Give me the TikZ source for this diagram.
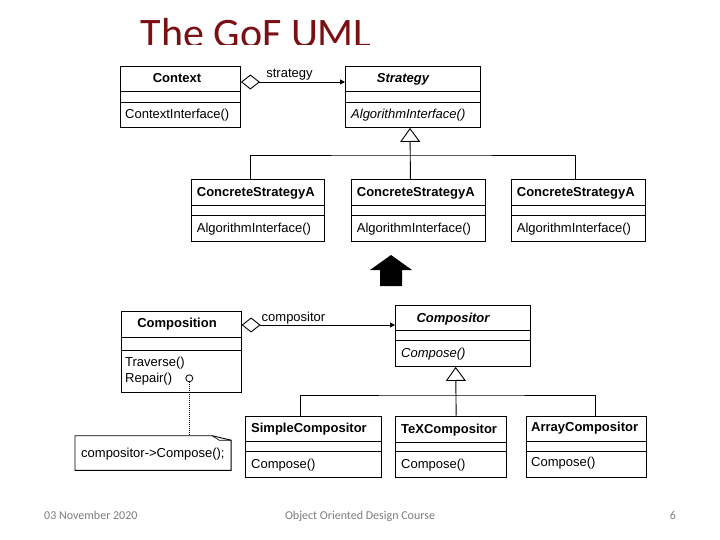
\documentclass[tikz,border=0pt]{standalone}
\usepackage{fontspec}
\setmainfont{Liberation Sans}
\newfontfamily\calib{Carlito}
\usetikzlibrary{arrows.meta}
\definecolor{titlered}{RGB}{122,16,20}
\definecolor{footgray}{RGB}{125,125,125}
\newcommand\umlbox[7]{%
  \node[cls, minimum width={(#4-#2)*1pt}, minimum height={(#5-#3)*1pt}] (#1) at (#2,#3) {};
  \draw[ln] (#2,#6) -- (#4,#6);
  \draw[ln] (#2,#7) -- (#4,#7);
}
\begin{document}
\begin{tikzpicture}[x=1pt,y=-1pt,
  ln/.style={line width=0.9pt},
  cls/.style={draw, ln, anchor=north west, inner sep=0},
  txt/.style={font=\fontsize{13}{15}\selectfont, inner sep=0, text height=9pt, text depth=0pt},
  ttl/.style={txt, font=\fontsize{13}{15}\selectfont\bfseries},
  ttlit/.style={txt, font=\fontsize{13}{15}\selectfont\bfseries\itshape},
  op/.style={txt, anchor=west},
  opit/.style={op, font=\fontsize{13}{15}\selectfont\itshape},
  agg/.style={ln, {Diamond[open,length=19pt,width=15pt]}-{Triangle[length=5pt,width=5pt]}},
  gen/.style={ln, -{Triangle[open,length=14pt,width=20pt]}},
  ft/.style={font=\calib\fontsize{12}{14}\selectfont, text=footgray, inner sep=0}
]
\useasboundingbox (0,0) rectangle (720,540);
\fill[white] (0,0) rectangle (720,540);

% title (clipped at its bottom as in the slide)
\begin{scope}
  \clip (0,0) rectangle (720,44.5);
  \node[font=\calib\fontsize{42}{48}\selectfont, text=titlered, anchor=base west, inner sep=0] (title) at (140.5,47.5) {The GoF UML};
\end{scope}

% classes
\umlbox{ctx}{120}{66}{240}{127}{91}{102}
\umlbox{str}{345}{66}{480}{127}{91}{102}
\umlbox{c1}{190.7}{179}{324}{241}{205}{215}
\umlbox{c2}{350.7}{179}{485}{241}{205}{215}
\umlbox{c3}{510.7}{179}{645}{241}{205}{215}
\umlbox{cmp}{120.7}{310.5}{240.7}{391.7}{337.7}{350}
\umlbox{cpr}{395}{305}{530}{366}{330}{340.7}
\umlbox{sc}{245}{415.7}{380.7}{477.3}{441}{451}
\umlbox{tc}{395}{415.7}{505.8}{477.3}{442}{451.7}
\umlbox{ac}{525.7}{415.7}{645.5}{477.3}{441}{451}

% class texts
\node[ttl] (ctxT) at (177,78.5) {Context};
\node[op] (ctxO) at (125,114.5) {ContextInterface()};
\node[ttlit] (strT) at (403,78.5) {Strategy};
\node[opit] (strO) at (351,114.5) {AlgorithmInterface()};
\node[ttl, anchor=west] (c1T) at (196.7,192) {ConcreteStrategyA};
\node[op] (c1O) at (196.7,228) {AlgorithmInterface()};
\node[ttl, anchor=west] (c2T) at (356.7,192) {ConcreteStrategyA};
\node[op] (c2O) at (356.7,228) {AlgorithmInterface()};
\node[ttl, anchor=west] (c3T) at (516.7,192) {ConcreteStrategyA};
\node[op] (c3O) at (516.7,228) {AlgorithmInterface()};
\node[ttl] (cmpT) at (177,323) {Composition};
\node[op] (cmpO1) at (125,362) {Traverse()};
\node[op] (cmpO2) at (125,378) {Repair()};
\node[ttlit] (cprT) at (453,317.5) {Compositor};
\node[opit] (cprO) at (401,353) {Compose()};
\node[ttl, anchor=west] (scT) at (251,428) {SimpleCompositor};
\node[op] (scO) at (251,464) {Compose()};
\node[ttl, anchor=west] (tcT) at (401,429) {TeXCompositor};
\node[op] (tcO) at (401,464) {Compose()};
\node[ttl, anchor=west] (acT) at (531,427) {ArrayCompositor};
\node[op] (acO) at (531,462) {Compose()};

% aggregations
\draw[agg] ([yshift=-16pt]ctx.north east) -- ([yshift=-16pt]str.north west);
\node[txt] (lblS) at (289.5,73) {strategy};
\draw[agg] ([yshift=-14.5pt]cmp.north east) -- ([yshift=-20pt]cpr.north west);
\node[txt] (lblC) at (293.5,317) {compositor};

% generalization Strategy
\coordinate (h1) at (410,155);
\draw[ln] ([xshift=-7.35pt]c1.north) |- (h1) -| ([xshift=-2.85pt]c3.north);
\draw[gen] ([xshift=-7.85pt]c2.north) -- (h1 |- str.south);

% generalization Compositor
\coordinate (h2) at (455.7,395);
\draw[ln] ([xshift=-12.85pt]sc.north) |- (h2) -| ([xshift=9.4pt]ac.north);
\draw[gen] ([xshift=5.3pt]tc.north) -- (h2 |- cpr.south);

% big black arrow
\fill[black] (370,270) -- (391,255) -- (412,270) -- (402,270) -- (402,286) -- (380,286) -- (380,270) -- cycle;

% note
\node[inner sep=0, minimum width=155.7pt, minimum height=34.3pt, anchor=north west] (note) at (75,435.7) {};
\draw[ln] (note.north west) -- ([xshift=-19pt]note.north east) -- ([yshift=-4.5pt]note.north east) -- (note.south east) -- (note.south west) -- cycle;
\draw[line width=0.6pt] ([xshift=-19pt]note.north east) -- ([xshift=-12pt,yshift=-4.5pt]note.north east) -- ([yshift=-4.5pt]note.north east);
\node[op] (noteT) at (81,452.5) {compositor->Compose();};
\node[draw, circle, line width=0.8pt, minimum size=7pt, inner sep=0] (rc) at (189.3,378.3) {};
\draw[line width=1pt, dash pattern=on 1pt off 1pt] (rc.south) -- (rc.south |- note.north);

% footer
\node[ft, anchor=base west] (date) at (44,519) {03 November 2020};
\node[ft, anchor=base] (course) at (360,519) {Object Oriented Design Course};
\node[ft, anchor=base] (page) at (673,519) {6};
\end{tikzpicture}
\end{document}
